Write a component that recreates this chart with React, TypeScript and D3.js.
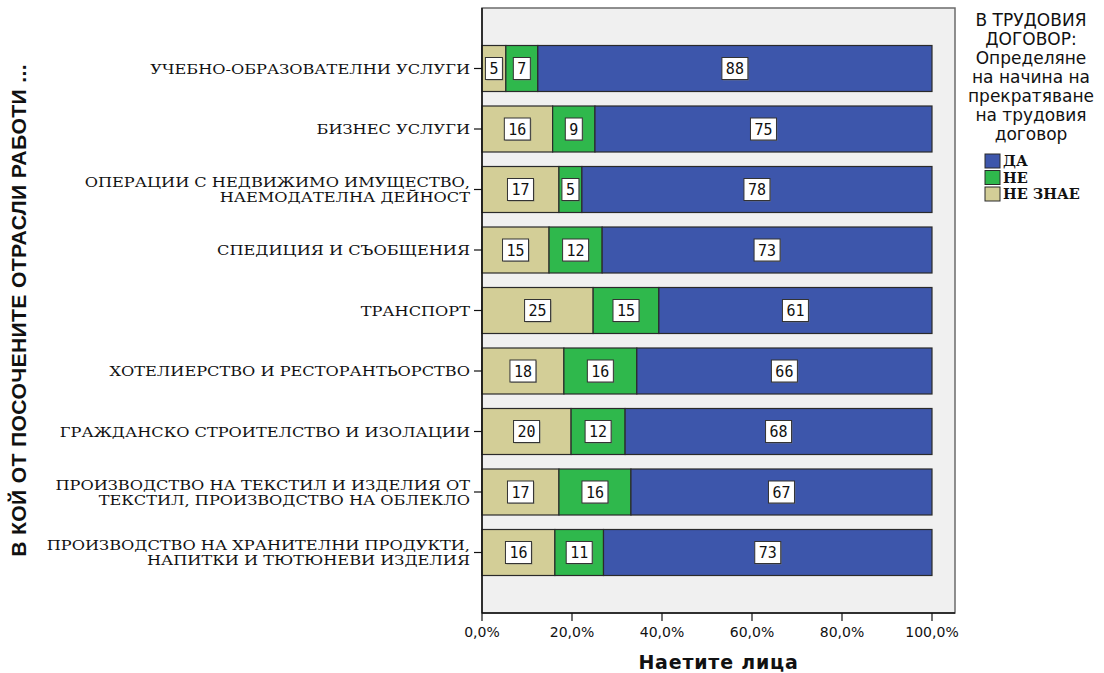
import React from "react";
import * as d3 from "d3";

const categories = [
  "УЧЕБНО-ОБРАЗОВАТЕЛНИ УСЛУГИ",
  "БИЗНЕС УСЛУГИ",
  "ОПЕРАЦИИ С НЕДВИЖИМО ИМУЩЕСТВО,\nНАЕМОДАТЕЛНА ДЕЙНОСТ",
  "СПЕДИЦИЯ И СЪОБЩЕНИЯ",
  "ТРАНСПОРТ",
  "ХОТЕЛИЕРСТВО И РЕСТОРАНТЬОРСТВО",
  "ГРАЖДАНСКО СТРОИТЕЛСТВО И ИЗОЛАЦИИ",
  "ПРОИЗВОДСТВО НА ТЕКСТИЛ И ИЗДЕЛИЯ ОТ\nТЕКСТИЛ, ПРОИЗВОДСТВО НА ОБЛЕКЛО",
  "ПРОИЗВОДСТВО НА ХРАНИТЕЛНИ ПРОДУКТИ,\nНАПИТКИ И ТЮТЮНЕВИ ИЗДЕЛИЯ",
];

// stacking order left to right: НЕ ЗНАЕ, НЕ, ДА
const neZnae = [5.3, 15.7, 17.1, 14.9, 24.7, 18.2, 19.8, 17.1, 16.2];
const ne = [7.1, 9.4, 5.1, 11.8, 14.6, 16.2, 12.0, 16.0, 10.8];
const da = [87.6, 74.9, 77.8, 73.3, 60.7, 65.6, 68.2, 66.9, 73.0];

const seriesNames = ["НЕ ЗНАЕ", "НЕ", "ДА"];
const seriesColors = ["#D3CE97", "#2FB84C", "#3D56AB"];
const legendOrder = ["ДА", "НЕ", "НЕ ЗНАЕ"];
const xTicks = [0, 20, 40, 60, 80, 100];

const legendTitle = [
  "В ТРУДОВИЯ",
  "ДОГОВОР:",
  "Определяне",
  "на начина на",
  "прекратяване",
  "на трудовия",
  "договор",
];
const yTitle = "В КОЙ ОТ ПОСОЧЕНИТЕ ОТРАСЛИ РАБОТИ ...";
const xTitle = "Наетите лица";

export default function App() {
  const W = 1104;
  const H = 673;
  const frame = { left: 482, top: 8, right: 955, bottom: 613 };
  const x = d3.scaleLinear().domain([0, 100]).range([482, 932]);
  const y = d3
    .scalePoint<string>()
    .domain(categories)
    .range([frame.top, frame.bottom])
    .padding(1);
  const barH = 46;
  const series = [neZnae, ne, da];

  const rows = categories.map((c, i) => {
    let acc = 0;
    const segs = series.map((s, k) => {
      const v = s[i];
      const x0 = acc;
      acc += v;
      return { k, v, x0, x1: acc };
    });
    return { c, segs };
  });

  const fmt = (v: number) => v.toFixed(1).replace(".", ",") + "%";

  return (
    <svg
      width={W}
      height={H}
      style={{ position: "absolute", left: 0, top: 0, background: "#fff" }}
    >
      <rect x={0} y={0} width={W} height={H} fill="#fff" />
      {/* plot frame */}
      <rect
        x={frame.left}
        y={frame.top}
        width={frame.right - frame.left}
        height={frame.bottom - frame.top}
        fill="#F0F0F0"
        stroke="#6b6b6b"
        strokeWidth={1.5}
      />
      {/* bars */}
      {rows.map((r) => {
        const cy = y(r.c)!;
        return (
          <g key={r.c}>
            {r.segs.map((s) => (
              <rect
                key={s.k}
                x={x(s.x0)}
                y={cy - barH / 2}
                width={x(s.x1) - x(s.x0)}
                height={barH}
                fill={seriesColors[s.k]}
                stroke="#2a2a2a"
                strokeWidth={1.2}
              />
            ))}
          </g>
        );
      })}
      {/* value labels */}
      {rows.map((r) => {
        const cy = y(r.c)!;
        return (
          <g key={"l" + r.c}>
            {r.segs.map((s) => {
              const txt = String(Math.round(s.v));
              const cx = (x(s.x0) + x(s.x1)) / 2;
              const bw = txt.length * 9 + 8;
              const bh = 22;
              return (
                <g key={s.k}>
                  <rect
                    x={cx - bw / 2 + 1}
                    y={cy - bh / 2 + 1}
                    width={bw}
                    height={bh}
                    fill="#777"
                    opacity={0.6}
                  />
                  <rect
                    x={cx - bw / 2}
                    y={cy - bh / 2}
                    width={bw}
                    height={bh}
                    fill="#fff"
                    stroke="#333"
                    strokeWidth={1}
                  />
                  <text
                    x={cx}
                    y={cy + 5.5}
                    textAnchor="middle"
                    fontFamily="'DejaVu Sans Mono', monospace"
                    fontSize={15}
                    fill="#111"
                  >
                    {txt}
                  </text>
                </g>
              );
            })}
          </g>
        );
      })}
      {/* axes lines */}
      <line x1={frame.left} x2={frame.left} y1={frame.top} y2={frame.bottom} stroke="#111" strokeWidth={1.5} />
      <line x1={frame.left} x2={frame.right} y1={frame.bottom} y2={frame.bottom} stroke="#111" strokeWidth={1.5} />
      {/* y ticks and labels */}
      {categories.map((c) => {
        const cy = y(c)!;
        const lines = c.split("\n");
        const lh = 15;
        const startY = cy - ((lines.length - 1) * lh) / 2 + 5;
        return (
          <g key={"y" + c}>
            <line x1={474} x2={frame.left} y1={cy} y2={cy} stroke="#111" strokeWidth={1.2} />
            {lines.map((ln, j) => (
              <g key={j} transform={`translate(470,${startY + j * lh}) scale(1.245,1)`}>
                <text
                  x={0}
                  y={0}
                  textAnchor="end"
                  fontFamily="'DejaVu Serif', serif"
                  fontSize={13}
                  fill="#111"
                >
                  {ln}
                </text>
              </g>
            ))}
          </g>
        );
      })}
      {/* x ticks */}
      {xTicks.map((t) => (
        <g key={"x" + t}>
          <line x1={x(t)} x2={x(t)} y1={frame.bottom} y2={frame.bottom + 8} stroke="#111" strokeWidth={1.2} />
          <text
            x={x(t)}
            y={637}
            textAnchor="middle"
            fontFamily="'DejaVu Sans', sans-serif"
            fontSize={14}
            fill="#111"
          >
            {fmt(t)}
          </text>
        </g>
      ))}
      <text
        x={(frame.left + frame.right) / 2}
        y={669}
        textAnchor="middle"
        fontFamily="'DejaVu Sans', sans-serif"
        fontWeight="bold"
        fontSize={19}
        letterSpacing={0.8}
        fill="#111"
      >
        {xTitle}
      </text>
      <g transform={`translate(26,${(frame.top + frame.bottom) / 2}) rotate(-90) scale(1.06,1)`}>
        <text
          textAnchor="middle"
          fontFamily="'Liberation Sans', Arial, sans-serif"
          fontWeight="bold"
          fontSize={20}
          letterSpacing={0.3}
          fill="#111"
        >
          {yTitle}
        </text>
      </g>
      {/* legend */}
      {legendTitle.map((t, i) => (
        <text
          key={"lt" + i}
          x={1031}
          y={26 + i * 19}
          textAnchor="middle"
          fontFamily="'DejaVu Sans', sans-serif"
          fontSize={17}
          fill="#111"
        >
          {t}
        </text>
      ))}
      {legendOrder.map((name, i) => {
        const k = seriesNames.indexOf(name);
        const ly = 161 + i * 16.5;
        return (
          <g key={"lg" + name}>
            <rect
              x={985}
              y={ly - 7}
              width={15}
              height={14}
              fill={seriesColors[k]}
              stroke="#2a2a2a"
              strokeWidth={1}
            />
            <text
              x={1003}
              y={ly + 5}
              fontFamily="'DejaVu Serif', serif"
              fontWeight="bold"
              fontSize={14.5}
              fill="#111"
            >
              {name}
            </text>
          </g>
        );
      })}
    </svg>
  );
}
